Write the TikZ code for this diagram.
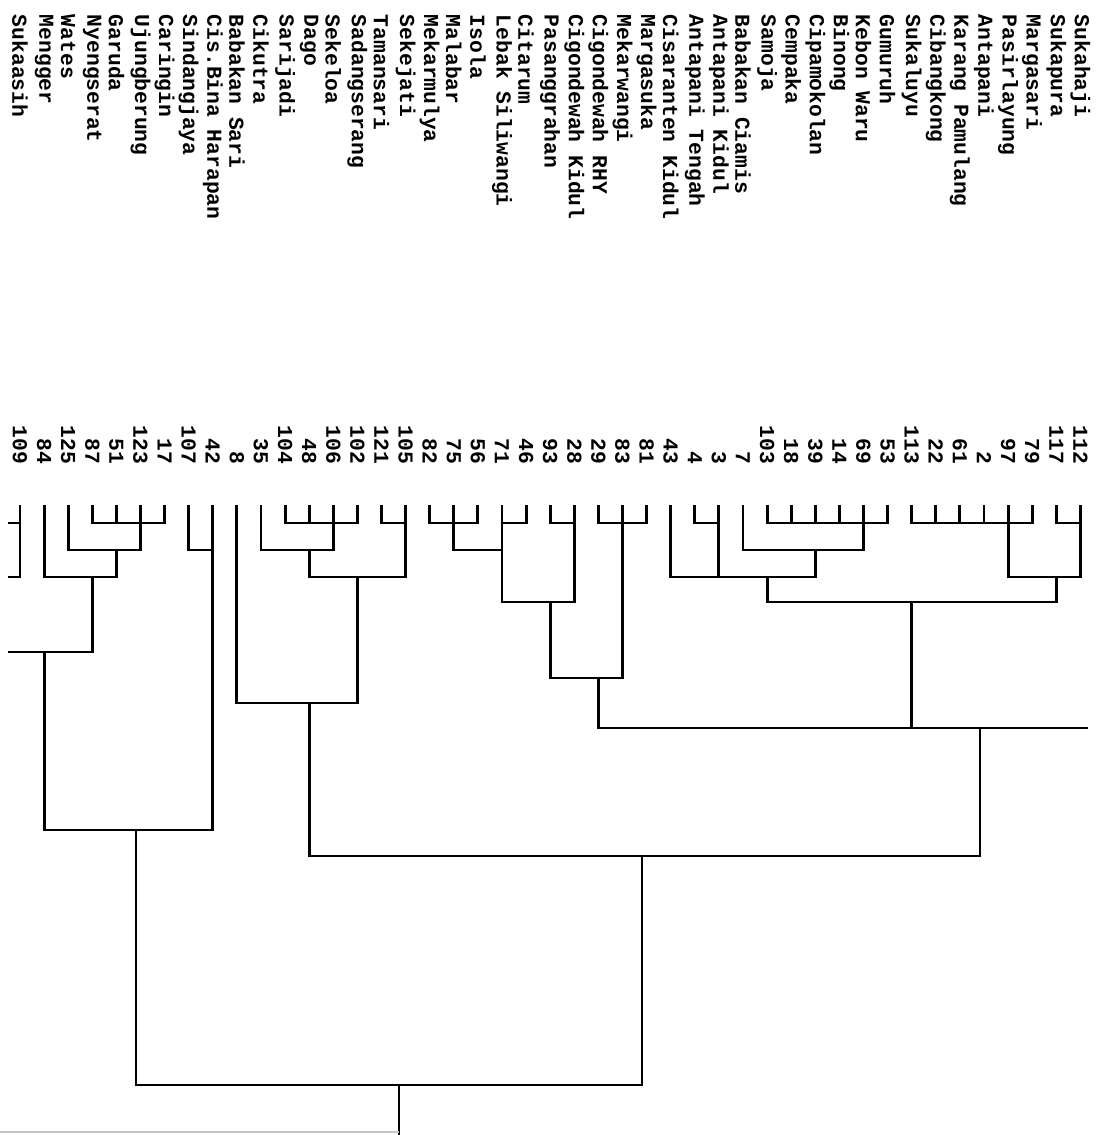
\documentclass[tikz,border=0pt]{standalone}
\usepackage{fontspec}
\setmonofont{Liberation Mono}
\usepackage{tikz}
\usetikzlibrary{calc}
\tikzset{
  lb/.style={rotate=-90,anchor=west,inner sep=0pt,font=\ttfamily\bfseries\fontsize{6.06}{7}\selectfont},
  casenum/.style={rotate=-90,anchor=east,inner sep=0pt,font=\ttfamily\bfseries\fontsize{6.06}{7}\selectfont},
  br/.style={line width=0.8pt},
  every picture/.style={line width=0.5pt},
}
\begin{document}
\begin{tikzpicture}[x=0.01cm,y=-0.01cm]
\useasboundingbox (0,0) rectangle (1096,1135);
% leaves, names and case numbers
\foreach \i/\nm/\cn in {0/Sukaasih/109,1/Mengger/84,2/Wates/125,3/Nyengserat/87,4/Garuda/51,
  5/Ujungberung/123,6/Caringin/17,7/Sindangjaya/107,8/Cis.Bina Harapan/42,9/Babakan Sari/8,
  10/Cikutra/35,11/Sarijadi/104,12/Dago/48,13/Sekeloa/106,14/Sadangserang/102,15/Tamansari/121,
  16/Sekejati/105,17/Mekarmulya/82,18/Malabar/75,19/Isola/56,20/Lebak Siliwangi/71,21/Citarum/46,
  22/Pasanggrahan/93,23/Cigondewah Kidul/28,24/Cigondewah RHY/29,25/Mekarwangi/83,26/Margasuka/81,
  27/Cisaranten Kidul/43,28/Antapani Tengah/4,29/Antapani Kidul/3,30/Babakan Ciamis/7,31/Samoja/103,
  32/Cempaka/18,33/Cipamokolan/39,34/Binong/14,35/Kebon Waru/69,36/Gumuruh/53,37/Sukaluyu/113,
  38/Cibangkong/22,39/Karang Pamulang/61,40/Antapani/2,41/Pasirlayung/97,42/Margasari/79,
  43/Sukapura/117,44/Sukahaji/112}{
  \coordinate (l\i) at ({20+24.1*\i},505);
  \node[lb] (t\i) at ({20+24.1*\i},14) {\nm};
  \node[casenum] (n\i) at ({20+24.1*\i},465) {\cn};
}
% joins
\coordinate (a1) at (140.5,523); \coordinate (a2) at (116.4,550); \coordinate (a3) at (92.3,577);
\coordinate (a4) at (44.1,652); \coordinate (b1) at (212.8,550); \coordinate (a5) at (136,830);
\coordinate (c1) at (333.3,523); \coordinate (c2) at (309.2,550); \coordinate (c3) at (405.6,523);
\coordinate (c4) at (357.4,577); \coordinate (c5) at (309.2,703);
\coordinate (d1) at (453.8,523); \coordinate (d2) at (502,523); \coordinate (d3) at (502,550);
\coordinate (d4) at (574.3,523); \coordinate (d5) at (550.2,602); \coordinate (d6) at (622.5,523);
\coordinate (d7) at (598.4,678);
\coordinate (e1) at (718.9,523); \coordinate (e2) at (863.5,523); \coordinate (e3) at (815.3,550);
\coordinate (e4) at (767.1,577); \coordinate (f1) at (1008.1,523); \coordinate (f2) at (1080.4,523);
\coordinate (f3) at (1056.3,577); \coordinate (e5) at (911.7,602);
\coordinate (g1) at (980,728); \coordinate (h1) at (642,856); \coordinate (r) at (399,1085);
% loose ends
\coordinate (z0) at (8,577); \coordinate (z1) at (8,523); \coordinate (z2) at (8,652);
\coordinate (g0) at (1088,728); \coordinate (r0) at (399,1135); \coordinate (s0) at (0,1132);
\foreach \c/\p in {l3/a1,l4/a1,l5/a1,l6/a1,l2/a2,a1/a2,l1/a3,a2/a3,a3/a4,l7/b1,l8/b1,a4/a5,b1/a5,
  l11/c1,l12/c1,l13/c1,l14/c1,l10/c2,c1/c2,l15/c3,l16/c3,c2/c4,c3/c4,l9/c5,c4/c5,
  l17/d1,l18/d1,l19/d1,l20/d2,l21/d2,d1/d3,d2/d3,l22/d4,l23/d4,d3/d5,d4/d5,
  l24/d6,l25/d6,l26/d6,d5/d7,d6/d7,
  l28/e1,l29/e1,l31/e2,l32/e2,l33/e2,l34/e2,l35/e2,l36/e2,l30/e3,e2/e3,l27/e4,e1/e4,e3/e4,
  l37/f1,l38/f1,l39/f1,l40/f1,l41/f1,l42/f1,l43/f2,l44/f2,f1/f3,f2/f3,e4/e5,f3/e5,
  d7/g1,e5/g1,c5/h1,g1/h1,a5/r,h1/r}
  \draw[br] (\c) |- (\p);
\draw[br] (l0) |- (z0); \draw[br] (z1) -- (l0 |- z1); \draw[br] (z2) -- (a4);
\draw[br] (g1) -- (g0); \draw[br] (r) -- (r0);
\draw[gray!45] (s0) -- (s0 -| r);
\end{tikzpicture}
\end{document}
